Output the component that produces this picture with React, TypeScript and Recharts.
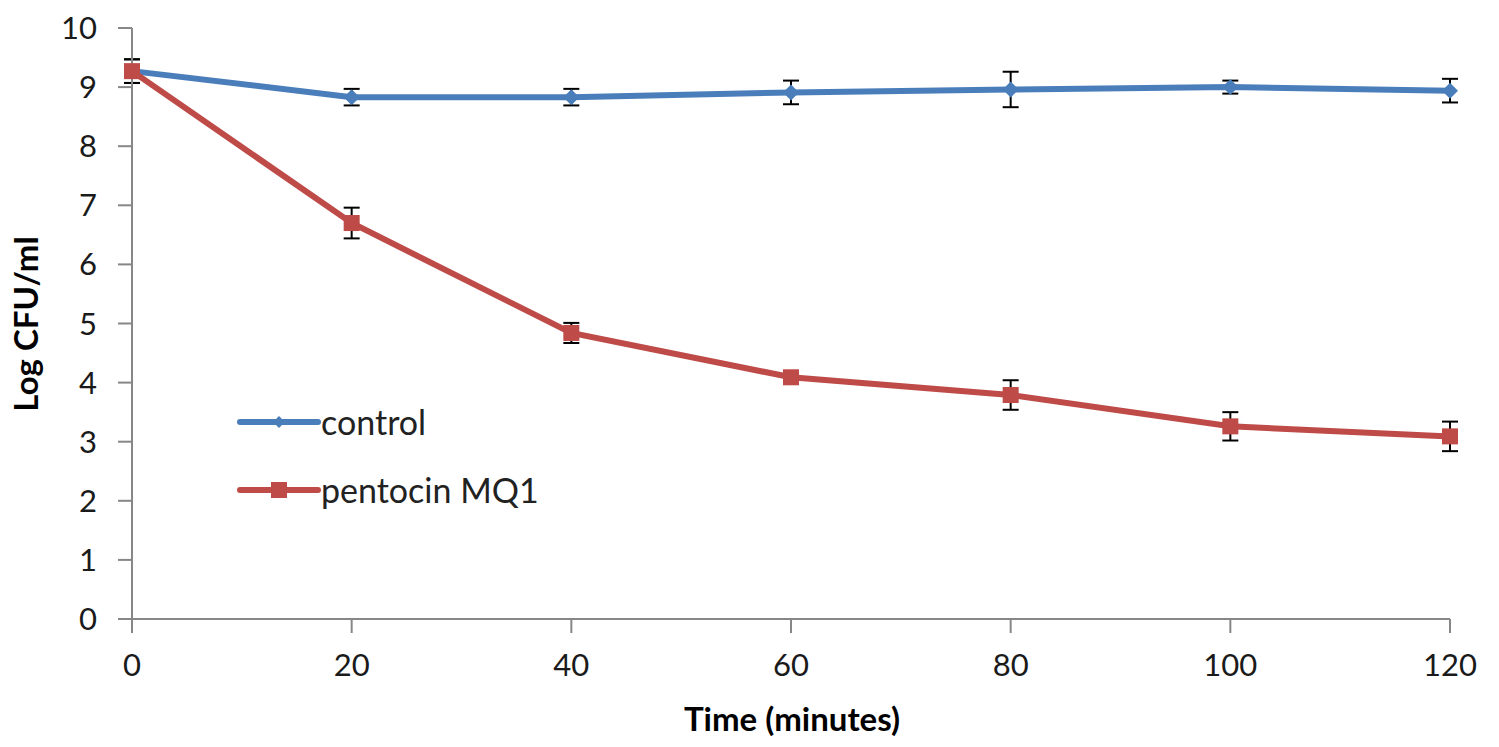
import { LineChart, Line, XAxis, YAxis, ErrorBar, Label } from 'recharts';

// sampling times (minutes) and log CFU/ml readings
const times = [0, 20, 40, 60, 80, 100, 120];
const control = [9.27, 8.83, 8.83, 8.91, 8.96, 9.0, 8.94];
const controlErr = [0.2, 0.14, 0.14, 0.2, 0.3, 0.11, 0.2];
const pentocin = [9.27, 6.7, 4.84, 4.09, 3.79, 3.26, 3.09];
const pentocinErr = [0.2, 0.26, 0.17, 0.08, 0.25, 0.24, 0.25];
const xTicks = [0, 20, 40, 60, 80, 100, 120];
const yTicks = [0, 1, 2, 3, 4, 5, 6, 7, 8, 9, 10];

const BLUE = '#4A7EBB';
const RED = '#BE4B48';
const AXIS = '#878787';
const FONT = 'Lato, "Open Sans", sans-serif';

const data = times.map((t, i) => ({
  t,
  control: control[i],
  controlErr: controlErr[i],
  pentocin: pentocin[i],
  pentocinErr: pentocinErr[i],
}));

const Diamond = ({ cx, cy, size = 7, color = BLUE }: any) => {
  if (cx == null || cy == null) return null;
  return (
    <path
      d={`M${cx},${cy - size} L${cx + size},${cy} L${cx},${cy + size} L${cx - size},${cy} Z`}
      fill={color}
    />
  );
};

const Square = ({ cx, cy, size = 8, color = RED }: any) => {
  if (cx == null || cy == null) return null;
  return <rect x={cx - size} y={cy - size} width={size * 2} height={size * 2} fill={color} />;
};

// legend sits inside the plot, drawn as an overlay so it doesn't eat plot space
function LegendBox() {
  const row = (label: string, color: string, marker: 'diamond' | 'square') => (
    <div style={{ display: 'flex', alignItems: 'center', height: 68 }}>
      <svg width={84} height={20}>
        <line x1={3} y1={10} x2={81} y2={10} stroke={color} strokeWidth={6} strokeLinecap="round" />
        {marker === 'diamond' ? <Diamond cx={42} cy={10} size={6} /> : <Square cx={42} cy={10} size={8} />}
      </svg>
      <span style={{ fontFamily: FONT, fontSize: 34, color: '#222', marginLeft: 0, lineHeight: '40px' }}>{label}</span>
    </div>
  );
  return (
    <div style={{ position: 'absolute', left: 237, top: 388 }}>
      {row('control', BLUE, 'diamond')}
      {row('pentocin MQ1', RED, 'square')}
    </div>
  );
}

export default function App() {
  return (
    <div style={{ position: 'relative', width: 1499, height: 747, background: '#fff' }}>
      <style>{'body{margin:0;background:#fff}'}</style>
      <LineChart width={1499} height={747} data={data} margin={{ top: 28, right: 49, bottom: 0, left: 0 }}>
        <XAxis
          dataKey="t"
          type="number"
          domain={[0, 120]}
          ticks={xTicks}
          interval={0}
          height={128}
          stroke={AXIS}
          strokeWidth={2}
          tickSize={14}
          tickMargin={21}
          tick={{ fill: '#1a1a1a', fontSize: 31, fontFamily: FONT }}
        >
          <Label
            content={() => (
              <text x={792} y={731} textAnchor="middle" fontFamily={FONT} fontWeight="bold" fontSize={33} fill="#000">
                Time (minutes)
              </text>
            )}
          />
        </XAxis>
        <YAxis
          type="number"
          domain={[0, 10]}
          ticks={yTicks}
          interval={0}
          width={132}
          stroke={AXIS}
          strokeWidth={2}
          tickSize={14}
          tickMargin={21}
          tick={{ fill: '#1a1a1a', fontSize: 31, fontFamily: FONT }}
        >
          <Label
            content={() => (
              <text
                x={38}
                y={324}
                transform="rotate(-90 38 324)"
                textAnchor="middle"
                fontFamily={FONT}
                fontWeight="bold"
                fontSize={33}
                fill="#000"
              >
                Log CFU/ml
              </text>
            )}
          />
        </YAxis>
        <Line
          dataKey="control"
          name="control"
          stroke={BLUE}
          strokeWidth={6}
          dot={(p: any) => <Diamond key={`c${p.index}`} cx={p.cx} cy={p.cy} size={8} />}
          activeDot={false}
          isAnimationActive={false}
        >
          <ErrorBar dataKey="controlErr" direction="y" width={8} stroke="#000" strokeWidth={2} />
        </Line>
        <Line
          dataKey="pentocin"
          name="pentocin MQ1"
          stroke={RED}
          strokeWidth={6}
          dot={(p: any) => <Square key={`p${p.index}`} cx={p.cx} cy={p.cy} size={8} />}
          activeDot={false}
          isAnimationActive={false}
        >
          <ErrorBar dataKey="pentocinErr" direction="y" width={8} stroke="#000" strokeWidth={2} />
        </Line>
      </LineChart>
      <LegendBox />
    </div>
  );
}
